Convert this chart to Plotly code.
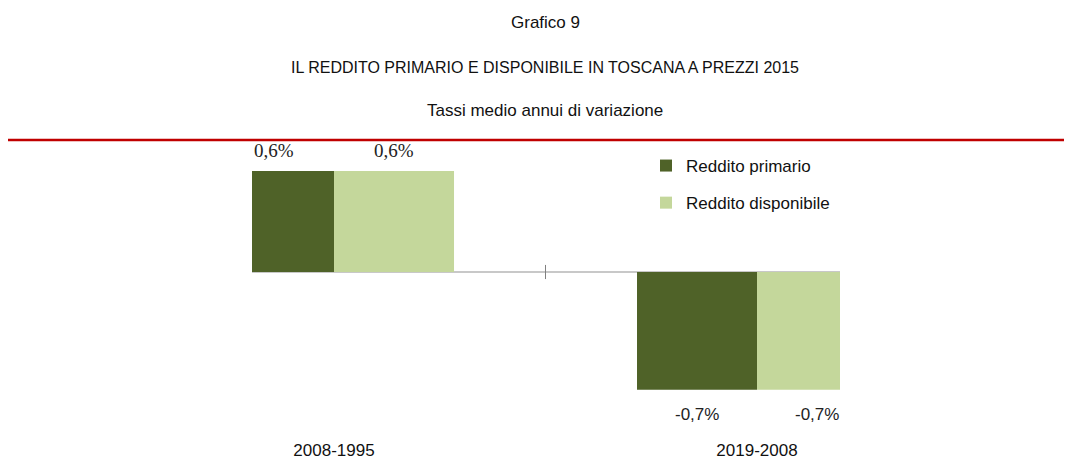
import plotly.graph_objects as go

categories = ["2008-1995", "2019-2008"]
series_names = ["Reddito primario", "Reddito disponibile"]
primario = [0.6, -0.7]
disponibile = [0.6, -0.7]
label_primario = ["0,6%", "-0,7%"]
label_disponibile = ["0,6%", "-0,7%"]

colors = ["#4F6228", "#C4D79B"]

W, H = 1072, 472
OFF = 8  # page body margin
ML, MR, MT, MB = 252 - OFF, W - (840 - OFF), 150 - OFF, H - (438 - OFF)
PW = W - ML - MR
PH = H - MT - MB


def px_to_paper_x(px):
    return (px - OFF - ML) / PW


def px_to_paper_y(py):
    return (H - MB - (py - OFF)) / PH


fig = go.Figure()
for name, vals, col in zip(series_names, [primario, disponibile], colors):
    fig.add_trace(go.Bar(
        x=categories, y=vals, name=name, marker_color=col,
        marker_line_width=0, legendgroup=name, hoverinfo="skip",
    ))

annotations = []
for sign, vals, labels in [(-1, primario, label_primario), (1, disponibile, label_disponibile)]:
    for cat, v, lab in zip(categories, vals, labels):
        pos = v >= 0
        annotations.append(dict(
            x=cat, y=v, xref="x", yref="y", text=lab, showarrow=False,
            xshift=sign * 60, yshift=21 if pos else -25,
            yanchor="middle", xanchor="center",
            font=dict(family="Liberation Serif" if pos else "Liberation Sans",
                      size=19 if pos else 17, color="#222222"),
        ))

titles = [("Grafico 9", 22, 17), ("IL REDDITO PRIMARIO E DISPONIBILE IN TOSCANA A PREZZI 2015", 67, 16),
          ("Tassi medio annui di variazione", 111, 17)]
for t, py, fs in titles:
    annotations.append(dict(
        x=px_to_paper_x(545), y=px_to_paper_y(py), xref="paper", yref="paper",
        text=t, showarrow=False, xanchor="center", yanchor="middle",
        font=dict(family="Liberation Sans", size=fs, color="#111111"),
    ))

shapes = [
    dict(type="line", xref="paper", yref="paper",
         x0=px_to_paper_x(8), x1=px_to_paper_x(1090),
         y0=px_to_paper_y(140), y1=px_to_paper_y(140),
         line=dict(color="#C00000", width=2.5)),
    dict(type="line", xref="x", yref="y", x0=0.5, x1=0.5, y0=-0.042, y1=0.042,
         line=dict(color="#808080", width=1)),
]

fig.update_layout(
    width=W, height=H,
    margin=dict(l=ML, r=MR, t=MT, b=MB),
    paper_bgcolor="white", plot_bgcolor="white",
    barmode="group", bargap=0.4326, bargroupgap=0,
    annotations=annotations, shapes=shapes,
    showlegend=True,
    legend=dict(
        x=px_to_paper_x(646), y=px_to_paper_y(148), xanchor="left", yanchor="top",
        font=dict(family="Liberation Sans", size=17, color="#111111"),
        traceorder="grouped", tracegroupgap=12, bgcolor="rgba(0,0,0,0)",
    ),
    xaxis=dict(
        type="category", range=[-0.1939, 1.1962], showgrid=False, showline=False,
        ticks="", ticklabelstandoff=0,
        tickfont=dict(family="Liberation Sans", size=17, color="#111111"),
    ),
    yaxis=dict(
        range=[-0.9863, 0.7249], showgrid=False, showticklabels=False,
        zeroline=True, zerolinecolor="#C8C8C8", zerolinewidth=2, showline=False,
    ),
)

fig.write_html("out.html")
